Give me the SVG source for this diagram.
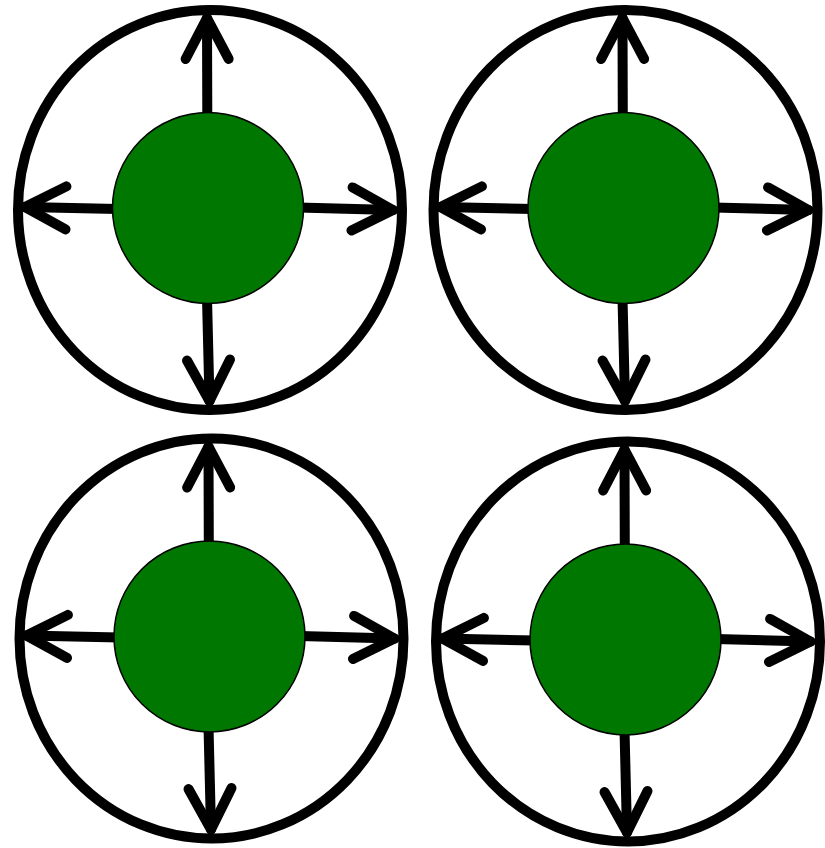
<svg xmlns="http://www.w3.org/2000/svg" width="825" height="848" viewBox="0 0 825 848">
  <style>
    .ring { fill: none; stroke: #000; stroke-width: 10; }
    .core { fill: #007700; stroke: #000; stroke-width: 1.5; }
    .arrow { fill: none; stroke: #000; stroke-width: 10; stroke-linecap: round; marker-end: url(#chev); }
  </style>
  <defs>
    <marker id="chev" markerUnits="userSpaceOnUse" orient="auto" refX="0" refY="0" markerWidth="60" markerHeight="60" overflow="visible">
      <path d="M -41 -21.5 L 0 0 L -41 21.5" fill="none" stroke="#000" stroke-width="10" stroke-linecap="round" stroke-linejoin="round"/>
    </marker>
    <g id="arrows4">
      <path class="arrow" d="M -0.7 -90 L -1 -190"/>
      <path class="arrow" d="M -1 90 L 1.5 193"/>
      <path class="arrow" d="M -90 1 L -183 -1"/>
      <path class="arrow" d="M 90 -0.5 L 185 2"/>
    </g>
  </defs>
  <rect width="825" height="848" fill="#fff"/>
  <g id="connectors">
    <use href="#arrows4" transform="translate(208,208)"/>
    <use href="#arrows4" transform="translate(623.5,208)"/>
    <use href="#arrows4" transform="translate(209.5,636.5)"/>
    <use href="#arrows4" transform="translate(625.5,639.5)"/>
  </g>
  <g id="unit1" transform="translate(208,208)">
    <ellipse class="ring" cx="2" cy="2" rx="192" ry="200"/>
    <circle class="core" cx="0" cy="0" r="95.5"/>
  </g>
  <g id="unit2" transform="translate(623.5,208)">
    <ellipse class="ring" cx="2" cy="2" rx="192" ry="200"/>
    <circle class="core" cx="0" cy="0" r="95.5"/>
  </g>
  <g id="unit3" transform="translate(209.5,636.5)">
    <ellipse class="ring" cx="2" cy="2" rx="192" ry="200"/>
    <circle class="core" cx="0" cy="0" r="95.5"/>
  </g>
  <g id="unit4" transform="translate(625.5,639.5)">
    <ellipse class="ring" cx="2.5" cy="2" rx="192" ry="200"/>
    <circle class="core" cx="0" cy="0" r="95.5"/>
  </g>
</svg>
